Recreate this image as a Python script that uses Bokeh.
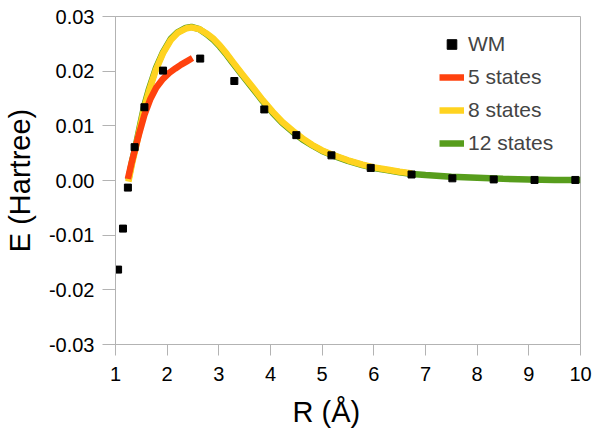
from bokeh.plotting import figure
from bokeh.models import Range1d, Legend, LegendItem, FixedTicker, Title
from bokeh.embed import file_html
from bokeh.resources import INLINE

# WM reference points
wm_r = [1.05, 1.145, 1.24, 1.37, 1.56, 1.92, 2.64, 3.30, 3.88, 4.50, 5.18, 5.94, 6.73, 7.52, 8.32, 9.11, 9.90]
wm_e = [-0.0163, -0.0088, -0.0013, 0.0061, 0.0134, 0.0201, 0.0223, 0.0182, 0.0130, 0.0083, 0.0046,
        0.0023, 0.0011, 0.0004, 0.0002, 0.0001, 0.0001]

# 5 states
s5_r = [1.24, 1.30, 1.37, 1.45, 1.56, 1.67, 1.79, 1.92, 2.04, 2.16, 2.27, 2.38, 2.49]
s5_e = [0.0003, 0.0028, 0.0054, 0.0083, 0.0120, 0.0148, 0.0170, 0.0186, 0.0197, 0.0205, 0.0212, 0.0218, 0.0224]

# 8 states
s8_r = [1.25, 1.32, 1.40, 1.48, 1.555, 1.65, 1.78, 1.92, 2.07, 2.20, 2.36, 2.47, 2.62, 2.76, 2.90,
        3.02, 3.15, 3.27, 3.45, 3.66, 3.85, 4.04, 4.23, 4.43, 4.62, 4.81, 5.00, 5.20, 5.50, 5.78,
        6.00, 6.25, 6.50, 6.74]
s8_e = [-0.0002, 0.0031, 0.0063, 0.0099, 0.0132, 0.0164, 0.0202, 0.0233, 0.0257, 0.0270, 0.0278,
        0.0280, 0.0277, 0.0269, 0.0259, 0.0247, 0.0232, 0.0217, 0.0195, 0.0170, 0.0147, 0.0126,
        0.0107, 0.0091, 0.0077, 0.0065, 0.0055, 0.0047, 0.0037, 0.0029, 0.0024, 0.0020, 0.0016, 0.0013]

# 12 states
s12_r = [1.25, 1.32, 1.40, 1.48, 1.555, 1.65, 1.78, 1.92, 2.07, 2.20, 2.36, 2.47, 2.62, 2.76, 2.90,
         3.02, 3.15, 3.27, 3.45, 3.66, 3.85, 4.04, 4.23, 4.43, 4.62, 4.81, 5.00, 5.20, 5.50, 5.78,
         6.00, 6.25, 6.50, 6.74, 7.00, 7.50, 8.00, 8.50, 9.00, 9.50, 10.00]
s12_e = [0.0001, 0.0035, 0.0067, 0.0103, 0.0136, 0.0168, 0.0205, 0.0235, 0.0259, 0.0271, 0.0279,
         0.0281, 0.0277, 0.0268, 0.0257, 0.0245, 0.0230, 0.0215, 0.0193, 0.0168, 0.0145, 0.0124,
         0.0105, 0.0089, 0.0075, 0.0064, 0.0054, 0.0046, 0.0036, 0.0028, 0.0023, 0.0019, 0.0015,
         0.0012, 0.0010, 0.0007, 0.0005, 0.0003, 0.0002, 0.0001, 0.0001]

x_ticks = [1, 2, 3, 4, 5, 6, 7, 8, 9, 10]
y_ticks = [-0.03, -0.02, -0.01, 0.0, 0.01, 0.02, 0.03]
y_tick_labels = {-0.03: "-0.03", -0.02: "-0.02", -0.01: "-0.01", 0.0: "0.00",
                 0.01: "0.01", 0.02: "0.02", 0.03: "0.03"}
x_title = "R (Å)"
y_title = "E (Hartree)"

FONT = "Liberation Sans"
GRAY = "#b3b3b3"

p = figure(width=593, height=438, output_backend="svg", toolbar_location=None,
           x_range=Range1d(1, 10), y_range=Range1d(-0.03, 0.03),
           min_border_left=113, min_border_right=13, min_border_top=16, min_border_bottom=94)
p.background_fill_color = "white"
p.border_fill_color = "white"
p.outline_line_color = GRAY
p.xgrid.visible = False
p.ygrid.visible = False

r12 = p.line(s12_r, s12_e, line_color="#579d1c", line_width=6.5)
r8 = p.line(s8_r, s8_e, line_color="#ffd320", line_width=6.5)
r5 = p.line(s5_r, s5_e, line_color="#ff420e", line_width=6.5)
rwm = p.scatter(wm_r, wm_e, marker="square", size=7, fill_color="black", line_color="black")

for ax in (p.xaxis[0], p.yaxis[0]):
    ax.axis_line_color = GRAY
    ax.major_tick_line_color = GRAY
    ax.minor_tick_line_color = None
    ax.major_tick_in = 0
    ax.major_label_text_font = FONT
    ax.major_label_text_font_size = "20px"
    ax.major_label_text_color = "black"
    ax.axis_label_text_font = FONT
    ax.axis_label_text_font_size = "29px"
    ax.axis_label_text_font_style = "normal"
    ax.axis_label_text_color = "black"

p.xaxis.ticker = FixedTicker(ticks=x_ticks)
p.yaxis.ticker = FixedTicker(ticks=y_ticks)
p.yaxis.major_label_overrides = y_tick_labels
p.xaxis.major_tick_out = 11
p.yaxis.major_tick_out = 13
p.xaxis.major_label_standoff = 11
p.yaxis.major_label_standoff = 8
p.yaxis.axis_label = y_title
p.yaxis.axis_label_standoff = 10

# x-axis title, placed left of the frame centre as in the reference
xt = Title(text=x_title, align="left", offset=177, text_font=FONT, text_font_size="29px",
           text_font_style="normal", text_color="black", standoff=20)
p.add_layout(xt, "below")

legend = Legend(items=[
    LegendItem(label="WM", renderers=[rwm]),
    LegendItem(label="5 states", renderers=[r5]),
    LegendItem(label="8 states", renderers=[r8]),
    LegendItem(label="12 states", renderers=[r12]),
], location=(324, 189))
legend.glyph_width = 25
legend.glyph_height = 24
legend.label_height = 24
legend.spacing = 9
legend.padding = 0
legend.margin = 0
legend.label_standoff = 4
legend.label_text_font = FONT
legend.label_text_font_size = "21px"
legend.border_line_color = None
legend.background_fill_alpha = 0
p.add_layout(legend)

open("out.html", "w").write(file_html(p, INLINE))
